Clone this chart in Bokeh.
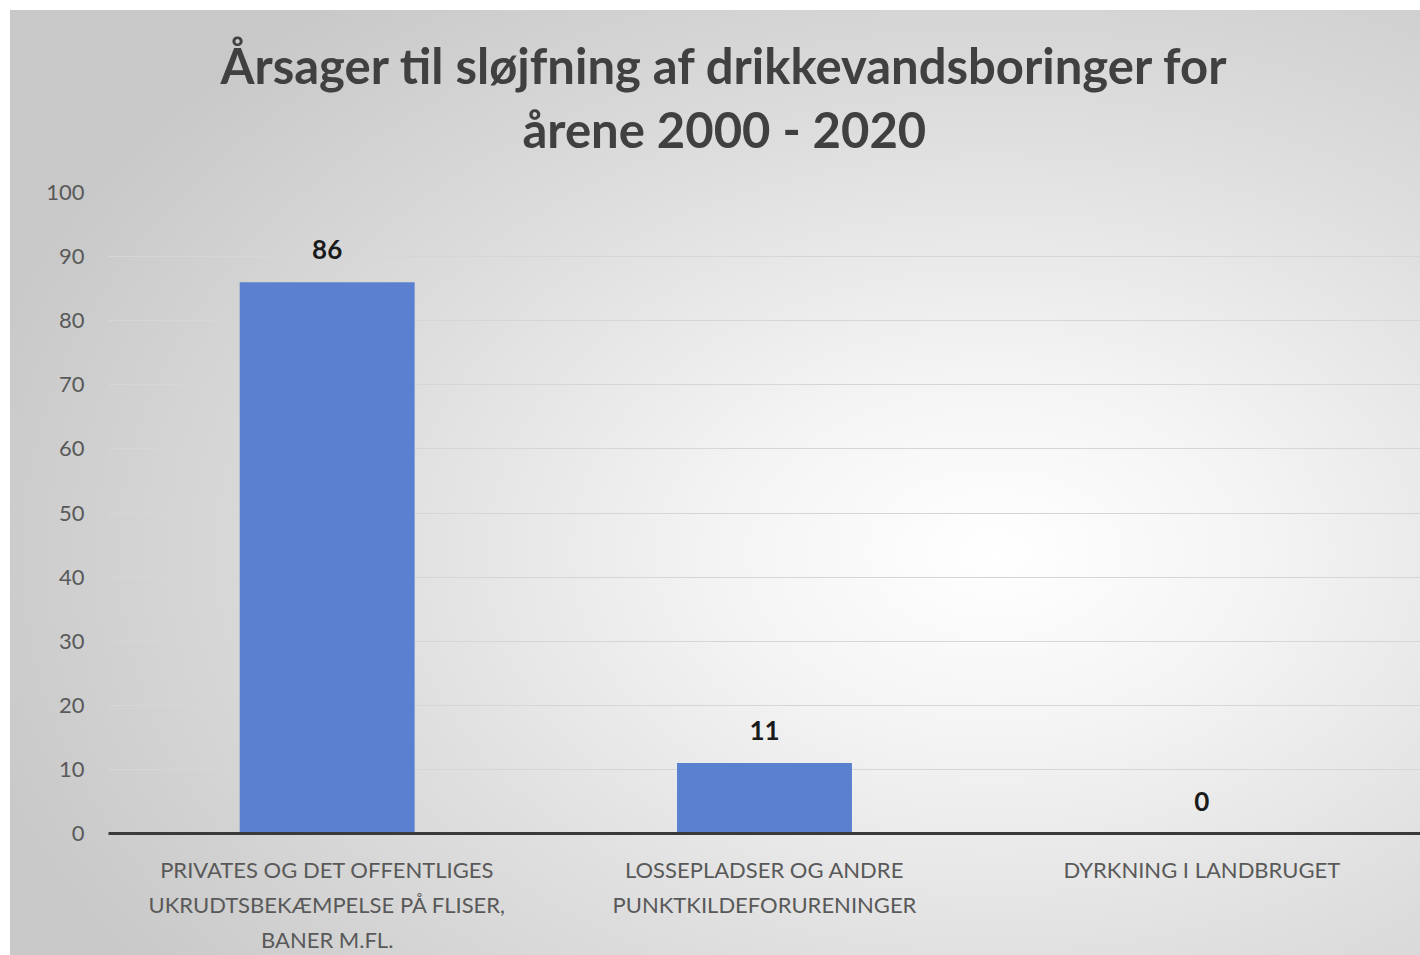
from bokeh.plotting import figure
from bokeh.models import ColumnDataSource, LabelSet, Range1d, FixedTicker, Title
from bokeh.core.properties import value
from bokeh.embed import file_html
from bokeh.resources import INLINE

title_line1 = "Årsager til sløjfning af drikkevandsboringer for"
title_line2 = "årene 2000 - 2020"
categories = [
    "PRIVATES OG DET OFFENTLIGES\nUKRUDTSBEKÆMPELSE PÅ FLISER,\nBANER M.FL.",
    "LOSSEPLADSER OG ANDRE\nPUNKTKILDEFORURENINGER",
    "DYRKNING I LANDBRUGET",
]
values = [86, 11, 0]
y_ticks = [0, 10, 20, 30, 40, 50, 60, 70, 80, 90, 100]

src = ColumnDataSource(data=dict(cat=categories, val=values, lbl=[str(v) for v in values]))

p = figure(
    x_range=categories,
    y_range=Range1d(0, 100),
    width=1420,
    height=955,
    output_backend="svg",
    toolbar_location=None,
    min_border_left=108,
    min_border_right=0,
    min_border_top=192,
    min_border_bottom=120,
    title=None,
)
p.styles = {
    "background": (
        "linear-gradient(#ffffff, #ffffff) top left / 100% 10px no-repeat, "
        "linear-gradient(#ffffff, #ffffff) top left / 10px 100% no-repeat, "
        "radial-gradient(ellipse 75% 75% at 70% 58%, #ffffff 0%, #f4f4f4 25%, #dedede 60%, #c8c8c8 100%)"
    )
}
p.border_fill_color = None
p.background_fill_color = None
p.outline_line_color = None

# spacer between frame and title
p.add_layout(Title(text=" ", text_font_size="1px", standoff=32), "above")
for txt, stand, off in [(title_line2, 0, 414), (title_line1, 8, 112)]:
    t = Title(text=txt, align="left", text_font="Lato", text_font_size="49px",
              text_font_style="bold", text_color="#404040", standoff=stand, offset=off)
    p.add_layout(t, "above")

p.vbar(x="cat", top="val", width=0.4, source=src, color="#5a80cf", line_color=None)

labels = LabelSet(x="cat", y="val", text="lbl", source=src, text_align="center",
                  text_baseline="bottom", y_offset=23, text_font=value("Lato"),
                  text_font_size="26px", text_font_style="bold", text_color="#1a1a1a")
p.add_layout(labels)

p.yaxis.ticker = FixedTicker(ticks=y_ticks)
p.yaxis.axis_line_color = None
p.yaxis.major_tick_line_color = None
p.yaxis.minor_tick_line_color = None
p.yaxis.major_label_text_font = "Lato"
p.yaxis.major_label_text_font_size = "22px"
p.yaxis.major_label_text_color = "#595959"
p.yaxis.major_label_standoff = 18

p.xaxis.axis_line_color = "#3a3a3a"
p.xaxis.axis_line_width = 3
p.xaxis.major_tick_line_color = None
p.xaxis.minor_tick_line_color = None
p.xaxis.major_label_text_font = "Lato"
p.xaxis.major_label_text_font_size = "22px"
p.xaxis.major_label_text_color = "#595959"
p.xaxis.major_label_standoff = 16
p.xaxis.major_label_text_line_height = 1.3

p.xgrid.grid_line_color = None
p.ygrid.grid_line_color = "#d6d6d6"
p.ygrid.grid_line_width = 1

open("out.html", "w").write(file_html(p, INLINE))
